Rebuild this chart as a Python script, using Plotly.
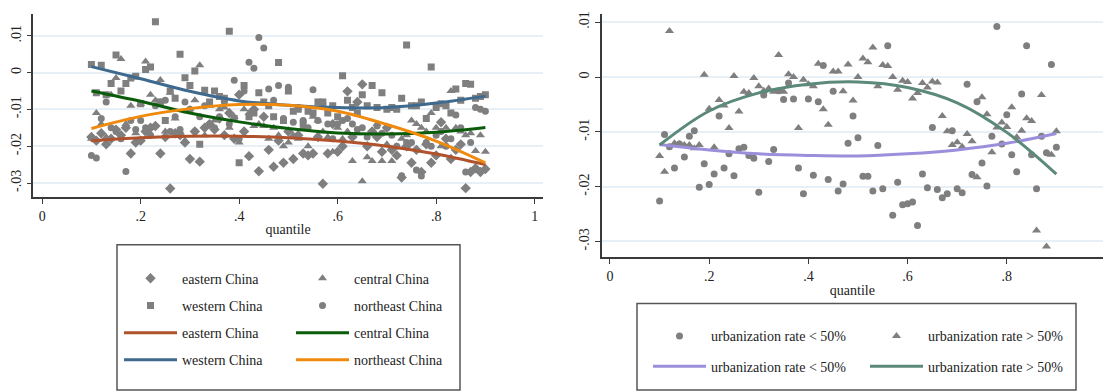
import plotly.graph_objects as go

# ---------------- data ----------------
quantiles = [round(0.10 + 0.01 * i, 2) for i in range(81)]

eastern_pts = [-0.0175, -0.0185, -0.0165, -0.0195, -0.0180, -0.0155, -0.0170, -0.0150, -0.0220, -0.0190,
               -0.0185, -0.0160, -0.0150, -0.0145, -0.0220, -0.0175, -0.0315, -0.0165, -0.0170, -0.0190,
               -0.0235, -0.0160, -0.0242, -0.0150, -0.0140, -0.0155, -0.0125, -0.0170, -0.0110, -0.0180,
               -0.0060, -0.0160, -0.0227, -0.0100, -0.0268, -0.0120, -0.0210, -0.0256, -0.0185, -0.0245,
               -0.0160, -0.0235, -0.0170, -0.0220, -0.0225, -0.0220, -0.0175, -0.0302, -0.0220, -0.0140,
               -0.0215, -0.0200, -0.0051, -0.0175, -0.0080, -0.0032, -0.0200, -0.0160, -0.0175, -0.0215,
               -0.0150, -0.0210, -0.0225, -0.0285, -0.0200, -0.0245, -0.0210, -0.0270, -0.0195, -0.0245,
               -0.0225, -0.0135, -0.0180, -0.0235, -0.0210, -0.0195, -0.0314, -0.0270, -0.0260, -0.0270,
               -0.0262]
central_pts = [-0.0180, -0.0110, -0.0140, -0.0175, -0.0060, -0.0015, 0.0037, -0.0140, -0.0090, -0.0165,
               -0.0085, 0.0030, -0.0060, -0.0075, -0.0020, -0.0160, -0.0055, -0.0125, -0.0160, -0.0185,
               -0.0100, -0.0075, 0.0020, -0.0170, -0.0090, -0.0130, -0.0100, -0.0095, -0.0150, -0.0120,
               -0.0190, -0.0100, -0.0110, -0.0145, -0.0140, -0.0145, -0.0180, -0.0150, -0.0170, -0.0200,
               -0.0190, -0.0170, -0.0180, -0.0150, -0.0200, -0.0120, -0.0130, -0.0160, -0.0175, -0.0215,
               -0.0150, -0.0180, -0.0160, -0.0240, -0.0165, -0.0295, -0.0230, -0.0240, -0.0140, -0.0240,
               -0.0195, -0.0240, -0.0200, -0.0180, -0.0170, -0.0130, -0.0140, -0.0150, -0.0160, -0.0110,
               -0.0150, -0.0200, -0.0150, -0.0050, -0.0150, -0.0160, -0.0170, -0.0165, -0.0213, -0.0170,
               -0.0215]
western_pts = [0.0022, -0.0055, 0.0020, -0.0060, -0.0030, 0.0048, -0.0050, -0.0030, -0.0015, -0.0010,
               -0.0085, 0.0008, 0.0015, 0.0138, -0.0080, -0.0130, -0.0050, -0.0070, 0.0050, -0.0014,
               -0.0035, 0.0004, -0.0195, -0.0048, -0.0080, -0.0050, -0.0065, -0.0070, 0.0112, -0.0125,
               -0.0245, -0.0035, -0.0120, -0.0110, -0.0055, -0.0080, -0.0090, -0.0120, 0.0027, -0.0130,
               -0.0050, -0.0105, -0.0100, -0.0140, -0.0105, -0.0110, -0.0080, -0.0080, -0.0110, -0.0090,
               -0.0120, -0.0009, -0.0075, -0.0095, -0.0110, -0.0060, -0.0090, -0.0035, -0.0095, -0.0055,
               -0.0100, -0.0095, -0.0100, -0.0070, 0.0075, -0.0090, -0.0090, -0.0080, -0.0125, 0.0015,
               -0.0095, -0.0085, -0.0090, -0.0110, -0.0045, -0.0075, -0.0030, -0.0032, -0.0070, -0.0065,
               -0.0060]
northeast_pts = [-0.0225, -0.0232, -0.0125, -0.0080, -0.0150, -0.0160, -0.0180, -0.0269, -0.0130, -0.0155,
                 -0.0130, -0.0150, -0.0170, -0.0090, -0.0080, -0.0075, -0.0160, -0.0120, -0.0155, -0.0080,
                 -0.0100, -0.0160, -0.0120, -0.0090, -0.0140, -0.0150, -0.0120, -0.0080, -0.0140, -0.0021,
                 -0.0180, -0.0050, 0.0028, 0.0012, 0.0095, 0.0067, -0.0045, -0.0075, -0.0035, -0.0125,
                 -0.0040, -0.0135, -0.0095, -0.0130, -0.0150, -0.0047, -0.0130, -0.0085, -0.0140, -0.0180,
                 -0.0140, -0.0130, -0.0125, -0.0140, -0.0155, -0.0150, -0.0175, -0.0160, -0.0145, -0.0165,
                 -0.0150, -0.0170, -0.0200, -0.0280, -0.0190, -0.0190, -0.0265, -0.0281, -0.0190, -0.0200,
                 -0.0170, -0.0160, -0.0200, -0.0180, -0.0115, -0.0150, -0.0270, -0.0190, -0.0095, -0.0100,
                 -0.0105]

# fitted curves read at q = .1, .2, ..., .9
curve_q = [0.1, 0.2, 0.3, 0.4, 0.5, 0.6, 0.7, 0.8, 0.9]
eastern_fit = [-0.0185, -0.0177, -0.0173, -0.0173, -0.0177, -0.0186, -0.0200, -0.0221, -0.0250]
central_fit = [-0.0050, -0.0078, -0.0110, -0.0134, -0.0152, -0.0164, -0.0167, -0.0162, -0.0149]
western_fit = [0.0016, -0.0017, -0.0051, -0.0077, -0.0089, -0.0095, -0.0095, -0.0083, -0.0064]
northeast_fit = [-0.0152, -0.0119, -0.0098, -0.0087, -0.0089, -0.0105, -0.0141, -0.0186, -0.0245]

low_urban_pts = [-0.0226, -0.0105, -0.0127, -0.0166, -0.0122, -0.0146, -0.0108, -0.0098, -0.0201, -0.0158,
                 -0.0196, -0.0177, -0.0071, -0.0166, -0.0140, -0.0180, -0.0131, -0.0128, -0.0143, -0.0148,
                 -0.0210, -0.0033, -0.0154, -0.0132, -0.0025, -0.0041, -0.0011, -0.0040, -0.0166, -0.0213,
                 -0.0040, -0.0179, -0.0045, 0.0021, -0.0187, -0.0026, -0.0208, -0.0195, -0.0121, -0.0071,
                 -0.0111, -0.0181, -0.0181, -0.0208, -0.0125, -0.0204, 0.0057, -0.0252, -0.0192, -0.0233,
                 -0.0231, -0.0228, -0.0271, -0.0177, -0.0202, -0.0092, -0.0205, -0.0220, -0.0213, -0.0098,
                 -0.0204, -0.0211, -0.0013, -0.0178, -0.0045, -0.0157, -0.0199, -0.0108, 0.0092, -0.0122,
                 -0.0069, -0.0142, -0.0173, -0.0031, 0.0057, -0.0142, -0.0204, -0.0108, -0.0138, 0.0023,
                 -0.0128]
high_urban_pts = [-0.0144, -0.0173, 0.0084, -0.0121, -0.0122, -0.0124, -0.0124, -0.0130, -0.0124, 0.0004,
                  -0.0058, -0.0128, -0.0042, -0.0052, -0.0093, 0.0002, -0.0063, -0.0027, -0.0029, -0.0002,
                  -0.0017, -0.0025, -0.0021, -0.0027, 0.0040, -0.0027, 0.0005, 0.0000, -0.0093, -0.0005,
                  -0.0013, -0.0017, 0.0024, -0.0059, -0.0087, 0.0010, 0.0010, -0.0026, 0.0023, -0.0043,
                  0.0000, 0.0034, 0.0027, 0.0054, -0.0017, 0.0022, 0.0020, 0.0000, -0.0023, -0.0007,
                  -0.0009, -0.0039, -0.0029, -0.0011, -0.0019, -0.0008, -0.0010, -0.0071, -0.0099, -0.0124,
                  -0.0119, -0.0127, -0.0104, -0.0117, -0.0183, -0.0037, -0.0068, -0.0137, -0.0092, -0.0083,
                  -0.0091, -0.0055, -0.0110, -0.0098, -0.0075, -0.0080, -0.0280, -0.0033, -0.0309, -0.0142,
                  -0.0099]
low_urban_fit = [-0.0123, -0.0133, -0.0140, -0.0143, -0.0144, -0.0140, -0.0133, -0.0121, -0.0103]
high_urban_fit = [-0.0124, -0.0062, -0.0029, -0.0013, -0.0009, -0.0019, -0.0047, -0.0101, -0.0177]

x_tickvals = [0, 0.2, 0.4, 0.6, 0.8, 1]
x_ticktext = ["0", ".2", ".4", ".6", ".8", "1"]
y_tickvals = [0.01, 0, -0.01, -0.02, -0.03]
y_ticktext = [".01", "0", "-.01", "-.02", "-.03"]

# ---------------- styling ----------------
W, H = 1103, 391
FONT = "Liberation Serif"
GRAY = "#7f7f7f"
C_EAST, C_CENT, C_WEST, C_NE = "#b0532c", "#0a5c0a", "#3d6a8e", "#f08a0c"
C_LOW, C_HIGH = "#9b8fdc", "#5c8a78"

fig = go.Figure()

def pts(x, y, name, symbol, size, xa, ya, legend, rank):
    fig.add_trace(go.Scatter(x=x, y=y, mode="markers", name=name,
                             marker=dict(symbol=symbol, size=size, color=GRAY),
                             xaxis=xa, yaxis=ya, legend=legend, legendgroup=name + legend + "m",
                             legendrank=rank, hoverinfo="skip"))

def fit(x, y, name, color, xa, ya, legend, rank):
    fig.add_trace(go.Scatter(x=x, y=y, mode="lines", name=name, line=dict(color=color, width=3, shape="spline"),
                             xaxis=xa, yaxis=ya, legend=legend, legendgroup=name + legend + "l",
                             legendrank=rank, hoverinfo="skip"))

# left panel
pts(quantiles, eastern_pts, "eastern China", "diamond", 8, "x", "y", "legend", 1)
pts(quantiles, western_pts, "western China", "square", 7, "x", "y", "legend", 2)
pts(quantiles, central_pts, "central China", "triangle-up", 8, "x", "y", "legend2", 1)
pts(quantiles, northeast_pts, "northeast China", "circle", 7, "x", "y", "legend2", 2)
fit(curve_q, eastern_fit, "eastern China", C_EAST, "x", "y", "legend", 3)
fit(curve_q, western_fit, "western China", C_WEST, "x", "y", "legend", 4)
fit(curve_q, central_fit, "central China", C_CENT, "x", "y", "legend2", 3)
fit(curve_q, northeast_fit, "northeast China", C_NE, "x", "y", "legend2", 4)

# right panel
pts(quantiles, low_urban_pts, "urbanization rate < 50%", "circle", 7, "x2", "y2", "legend3", 1)
pts(quantiles, high_urban_pts, "urbanization rate > 50%", "triangle-up", 8, "x2", "y2", "legend4", 1)
fit(curve_q, low_urban_fit, "urbanization rate < 50%", C_LOW, "x2", "y2", "legend3", 2)
fit(curve_q, high_urban_fit, "urbanization rate > 50%", C_HIGH, "x2", "y2", "legend4", 2)

def px_x(p):
    return p / W

def px_y(p):
    return 1 - p / H

axis_common = dict(showline=True, linecolor="#3a3a3a", linewidth=1.5, ticks="outside", ticklen=5,
                   tickwidth=1.2, tickcolor="#3a3a3a", zeroline=False,
                   tickfont=dict(family=FONT, size=14, color="#222"))
xcommon = dict(axis_common, showgrid=False, tickvals=x_tickvals, ticktext=x_ticktext,
               title=dict(text="quantile", font=dict(family=FONT, size=14, color="#222"), standoff=2))
ycommon = dict(axis_common, showgrid=True, gridcolor="#e8f0f7", gridwidth=1.5,
               tickvals=y_tickvals, ticktext=y_ticktext, tickangle=-90)

legend_common = dict(orientation="v", bgcolor="rgba(0,0,0,0)", borderwidth=0, itemwidth=53,
                     font=dict(family=FONT, size=14, color="#222"), traceorder="grouped",
                     xanchor="left", yanchor="top", itemclick=False, itemdoubleclick=False)

fig.update_layout(
    width=W, height=H, margin=dict(l=0, r=0, t=0, b=0),
    paper_bgcolor="white", plot_bgcolor="white",
    font=dict(family=FONT, size=14, color="#222"),
    xaxis=dict(xcommon, domain=[px_x(33.3), px_x(543)], range=[-0.018, 1.017], anchor="y"),
    yaxis=dict(ycommon, domain=[px_y(196), px_y(11.7)], range=[-0.0338, 0.016], anchor="x"),
    xaxis2=dict(xcommon, domain=[px_x(601.7), 1.0], range=[-0.0167, 0.994], anchor="y2"),
    yaxis2=dict(ycommon, domain=[px_y(256.7), px_y(11.7)], range=[-0.0329, 0.01156], anchor="x2"),
    legend=dict(legend_common, x=px_x(119), y=px_y(262), tracegroupgap=6),
    legend2=dict(legend_common, x=px_x(291), y=px_y(262), tracegroupgap=6),
    legend3=dict(legend_common, x=px_x(648), y=px_y(320), tracegroupgap=9),
    legend4=dict(legend_common, x=px_x(865), y=px_y(320), tracegroupgap=9),
    shapes=[
        dict(type="rect", xref="paper", yref="paper", x0=px_x(117), x1=px_x(460), y0=px_y(390), y1=px_y(244),
             line=dict(color="#555", width=1.5), fillcolor="rgba(0,0,0,0)", layer="below"),
        dict(type="rect", xref="paper", yref="paper", x0=px_x(637), x1=px_x(1076), y0=px_y(390), y1=px_y(303),
             line=dict(color="#555", width=1.5), fillcolor="rgba(0,0,0,0)", layer="below"),
    ],
)

fig.write_html("out.html", config={"displayModeBar": False},
               post_script="document.body.style.margin='0';document.body.style.overflow='hidden';")
